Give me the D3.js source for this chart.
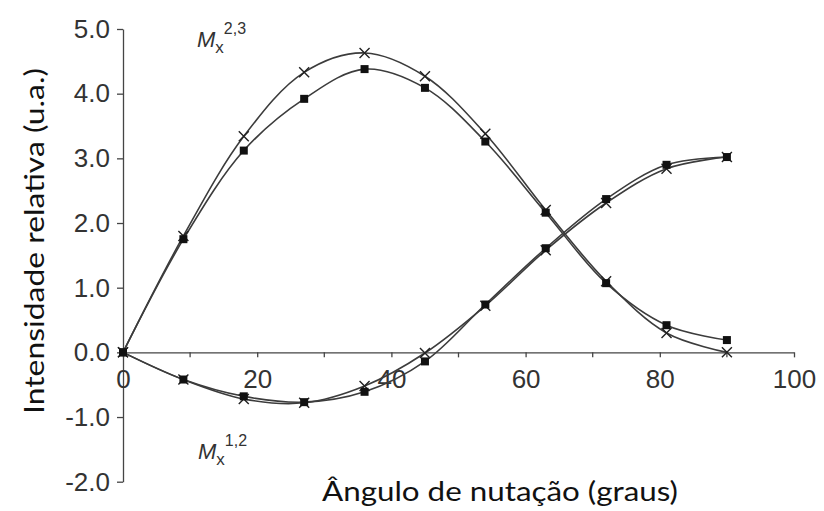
<!DOCTYPE html>
<html>
<head>
<meta charset="utf-8">
<script src="https://cdn.jsdelivr.net/npm/d3@7"></script>
<style>
  html, body { margin: 0; padding: 0; background: #fff; }
  svg { display: block; }
</style>
</head>
<body>
<svg id="chart" width="824" height="511"></svg>
<script>
// Nutation angle (degrees)
const angles = [0, 9, 18, 27, 36, 45, 54, 63, 72, 81, 90];

// Mx(2,3) intensities
const mx23Squares = [0, 1.75, 3.12, 3.92, 4.38, 4.09, 3.26, 2.16, 1.07, 0.42, 0.19];
const mx23Crosses = [0, 1.80, 3.34, 4.33, 4.63, 4.27, 3.38, 2.20, 1.10, 0.30, 0.00];

// Mx(1,2) intensities
const mx12Squares = [0, -0.42, -0.68, -0.77, -0.61, -0.14, 0.74, 1.61, 2.37, 2.90, 3.02];
const mx12Crosses = [0, -0.42, -0.72, -0.78, -0.52, -0.01, 0.72, 1.58, 2.31, 2.84, 3.02];

const xTicks = [0, 20, 40, 60, 80, 100];
const xMinorTicks = [10, 30, 50, 70, 90];
const yTicks = [-2, -1, 0, 1, 2, 3, 4, 5];

const svg = d3.select("#chart");

const x = d3.scaleLinear().domain([0, 100]).range([123, 794]);
const y = d3.scaleLinear().domain([-2, 5]).range([481.7, 29]);

const axisColor = "#454545";
const lineColor = "#3c3c3c";

// one decimal, plain hyphen for negatives
const fmtY = d => d.toFixed(1);

// Y axis (left, at x = 0)
const yAxis = svg.append("g")
  .attr("transform", `translate(${x(0)},0)`)
  .call(d3.axisLeft(y).tickValues(yTicks).tickFormat(fmtY)
    .tickSize(6).tickSizeOuter(0).tickPadding(7));
yAxis.select(".domain").attr("stroke", axisColor).attr("stroke-width", 1.3);
yAxis.selectAll(".tick line").attr("stroke", axisColor).attr("stroke-width", 1.3);
yAxis.selectAll(".tick text")
  .attr("font-family", "Liberation Sans, Arial, sans-serif")
  .attr("font-size", 26)
  .attr("fill", "#333");

// X axis crossing at y = 0
const xAxisG = svg.append("g")
  .attr("transform", `translate(0,${y(0)})`)
  .call(d3.axisBottom(x).tickValues(xTicks).tickFormat(d => String(d))
    .tickSize(5).tickSizeOuter(0).tickPadding(12));
xAxisG.select(".domain").attr("stroke", axisColor).attr("stroke-width", 1.3);
xAxisG.selectAll(".tick line").attr("stroke", axisColor).attr("stroke-width", 1.3);
xAxisG.selectAll(".tick text")
  .attr("font-family", "Liberation Sans, Arial, sans-serif")
  .attr("font-size", 26)
  .attr("fill", "#333");

// minor ticks on the x axis
xAxisG.selectAll(".minor")
  .data(xMinorTicks)
  .enter().append("line")
  .attr("x1", d => x(d)).attr("x2", d => x(d))
  .attr("y1", 0).attr("y2", 5)
  .attr("stroke", axisColor).attr("stroke-width", 1.3);

// Curves
const line = d3.line()
  .x((d, i) => x(angles[i]))
  .y(d => y(d))
  .curve(d3.curveCatmullRom.alpha(0.5));

const seriesList = [
  { values: mx23Crosses, marker: "cross" },
  { values: mx23Squares, marker: "square" },
  { values: mx12Crosses, marker: "cross" },
  { values: mx12Squares, marker: "square" }
];

seriesList.forEach(s => {
  svg.append("path")
    .datum(s.values)
    .attr("d", line)
    .attr("fill", "none")
    .attr("stroke", lineColor)
    .attr("stroke-width", 1.6);
});

// Markers
seriesList.forEach(s => {
  const g = svg.append("g");
  if (s.marker === "square") {
    g.selectAll("rect").data(s.values).enter().append("rect")
      .attr("x", (d, i) => x(angles[i]) - 4)
      .attr("y", d => y(d) - 4)
      .attr("width", 8).attr("height", 8)
      .attr("fill", "#111");
  } else {
    const r = 5;
    g.selectAll("path").data(s.values).enter().append("path")
      .attr("d", (d, i) => {
        const cx = x(angles[i]), cy = y(d);
        return `M${cx - r},${cy - r}L${cx + r},${cy + r}M${cx - r},${cy + r}L${cx + r},${cy - r}`;
      })
      .attr("stroke", "#222").attr("stroke-width", 1.4).attr("fill", "none");
  }
});

// Series annotations
function annotate(px, py, sup) {
  const t = svg.append("text")
    .attr("x", px).attr("y", py)
    .attr("font-family", "Liberation Sans, Arial, sans-serif")
    .attr("fill", "#333");
  t.append("tspan").attr("font-size", 22).attr("font-style", "italic").text("M");
  t.append("tspan").attr("font-size", 17).attr("dy", 6).text("x");
  t.append("tspan").attr("font-size", 16).attr("dy", -19).text(sup);
}
annotate(197, 47, "2,3");
annotate(198, 459, "1,2");

// Axis titles
svg.append("text")
  .attr("x", 500).attr("y", 501)
  .attr("text-anchor", "middle")
  .attr("font-family", "Lato, 'Open Sans', sans-serif")
  .attr("font-size", 27)
  .attr("fill", "#111")
  .attr("textLength", 356).attr("lengthAdjust", "spacingAndGlyphs")
  .text("Ângulo de nutação (graus)");

svg.append("text")
  .attr("transform", "translate(44,241) rotate(-90)")
  .attr("text-anchor", "middle")
  .attr("font-family", "Lato, 'Open Sans', sans-serif")
  .attr("font-size", 27)
  .attr("fill", "#111")
  .attr("textLength", 346).attr("lengthAdjust", "spacingAndGlyphs")
  .text("Intensidade relativa (u.a.)");
</script>
</body>
</html>
